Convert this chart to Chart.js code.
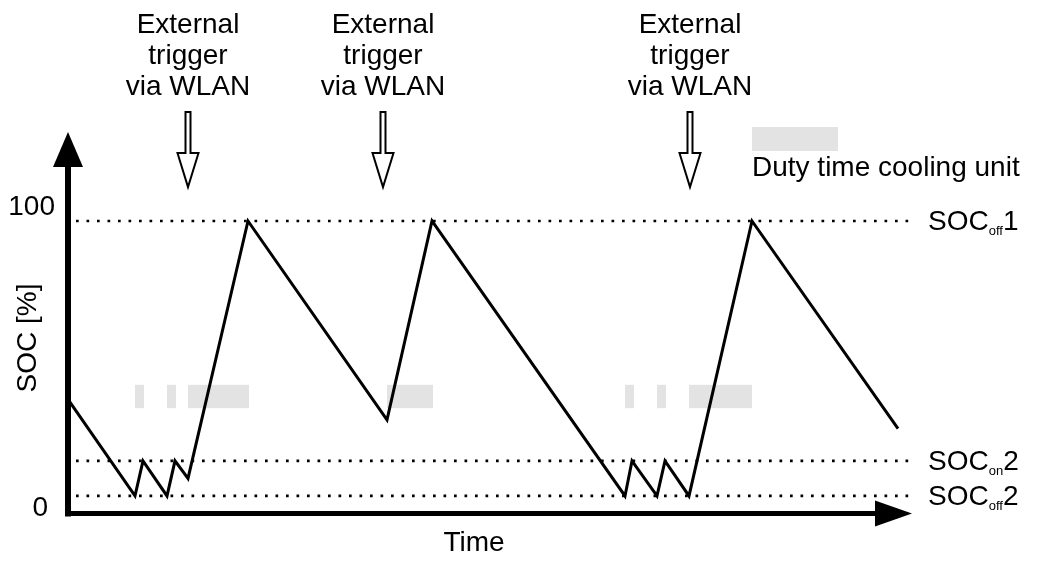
<!DOCTYPE html>
<html>
<head>
<meta charset="utf-8">
<script src="https://cdn.jsdelivr.net/npm/chart.js@4.4.1/dist/chart.umd.min.js"></script>
<style>
  html, body { margin: 0; padding: 0; background: #fff; }
  #wrap { width: 1037px; height: 562px; position: relative; }
</style>
</head>
<body>
<div id="wrap"><canvas id="chart"></canvas></div>
<script>
// time axis in arbitrary units, SOC in %
const timeMax = 844;
const socTime = [0, 67, 75, 99, 107, 120, 180, 319, 364, 557, 564, 589, 597, 621, 684, 830];
const socValues = [39, 6, 18, 6, 18, 12, 100, 32, 100, 6, 18, 6, 18, 6, 100, 29];

// threshold levels (dotted lines)
const thresholdNames = [["SOC", "off", "1"], ["SOC", "on", "2"], ["SOC", "off", "2"]];
const thresholdValues = [100, 18, 6];
const thresholdFrom = 8;
const thresholdTo = 842;

// cooling unit duty time (grey blocks)
const dutyStart = [67, 99, 120, 319, 557, 589, 621];
const dutyEnd = [76, 108, 181, 365, 566, 598, 684];
const dutyLow = 36;
const dutyHigh = 44;

// external triggers
const triggerTimes = [120, 315, 622];
const triggerText = ["External", "trigger", "via WLAN"];

const yTicks = [0, 100];
const yTickLabels = ["0", "100"];

const FONT = "'Liberation Sans', Arial, sans-serif";
const GREY = "#e3e3e3";

const datasets = [
  {
    data: socTime.map((t, i) => ({ x: t, y: socValues[i] })),
    borderColor: "#000",
    borderWidth: 3,
    pointRadius: 0,
    tension: 0,
    borderJoinStyle: "miter",
    clip: false,
  },
];
thresholdValues.forEach((v) => {
  datasets.push({
    data: [{ x: thresholdFrom, y: v }, { x: thresholdTo, y: v }],
    borderColor: "#000",
    borderWidth: 2.7,
    borderDash: [2.7, 7.8],
    borderCapStyle: "butt",
    pointRadius: 0,
    clip: false,
  });
});

function hollowArrow(ctx, x, top) {
  ctx.beginPath();
  ctx.moveTo(x - 2.5, top);
  ctx.lineTo(x + 2.5, top);
  ctx.lineTo(x + 2.5, top + 41);
  ctx.lineTo(x + 10.5, top + 41);
  ctx.lineTo(x, top + 75);
  ctx.lineTo(x - 10.5, top + 41);
  ctx.lineTo(x - 2.5, top + 41);
  ctx.closePath();
  ctx.fillStyle = "#fff";
  ctx.fill();
  ctx.lineWidth = 2;
  ctx.strokeStyle = "#000";
  ctx.stroke();
}

const decorations = {
  id: "decorations",
  beforeDatasetsDraw(chart) {
    const { ctx, scales: { x, y } } = chart;
    ctx.save();
    ctx.fillStyle = GREY;
    dutyStart.forEach((s, i) => {
      const x0 = x.getPixelForValue(s);
      const x1 = x.getPixelForValue(dutyEnd[i]);
      const y0 = y.getPixelForValue(dutyHigh);
      const y1 = y.getPixelForValue(dutyLow);
      ctx.fillRect(x0, y0, x1 - x0, y1 - y0);
    });
    ctx.restore();
  },
  afterDraw(chart) {
    const { ctx, chartArea: a, scales: { x, y } } = chart;
    ctx.save();
    ctx.fillStyle = "#000";

    // axes with arrow heads
    ctx.fillRect(a.left - 3, a.top - 55, 6, a.bottom - a.top + 58);
    ctx.fillRect(a.left - 3, a.bottom - 2.5, a.right - a.left - 34, 5);
    ctx.beginPath();
    ctx.moveTo(a.left, a.top - 89);
    ctx.lineTo(a.left + 15, a.top - 54);
    ctx.lineTo(a.left - 15, a.top - 54);
    ctx.closePath();
    ctx.fill();
    ctx.beginPath();
    ctx.moveTo(a.right, a.bottom);
    ctx.lineTo(a.right - 37, a.bottom - 13);
    ctx.lineTo(a.right - 37, a.bottom + 13);
    ctx.closePath();
    ctx.fill();

    // tick labels
    ctx.font = "28px " + FONT;
    ctx.textAlign = "right";
    ctx.textBaseline = "middle";
    yTicks.forEach((v, i) => {
      const nudge = v === 0 ? -5 : -14;
      ctx.fillText(yTickLabels[i], a.left - (v === 0 ? 20 : 13), y.getPixelForValue(v) + nudge);
    });

    // axis titles
    ctx.textAlign = "center";
    ctx.fillText("Time", 474, 543);
    ctx.save();
    ctx.translate(28, 338);
    ctx.rotate(-Math.PI / 2);
    ctx.fillText("SOC [%]", 0, 0);
    ctx.restore();

    // threshold labels with subscripts
    ctx.textAlign = "left";
    ctx.textBaseline = "alphabetic";
    thresholdValues.forEach((v, i) => {
      const [main, sub, tail] = thresholdNames[i];
      const py = y.getPixelForValue(v) + 9;
      let px = a.right + 16;
      ctx.font = "28px " + FONT;
      ctx.fillText(main, px, py);
      px += ctx.measureText(main).width;
      ctx.font = "13px " + FONT;
      ctx.fillText(sub, px, py + 5);
      px += ctx.measureText(sub).width;
      ctx.font = "28px " + FONT;
      ctx.fillText(tail, px, py);
    });

    // trigger annotations
    ctx.textAlign = "center";
    triggerTimes.forEach((t) => {
      const px = x.getPixelForValue(t);
      ctx.fillStyle = "#000";
      ctx.font = "28px " + FONT;
      triggerText.forEach((line, k) => ctx.fillText(line, px, 33 + k * 31));
      hollowArrow(ctx, px, 112);
    });

    // legend
    ctx.fillStyle = GREY;
    ctx.fillRect(752, 127, 86, 24);
    ctx.fillStyle = "#000";
    ctx.font = "28px " + FONT;
    ctx.textAlign = "left";
    ctx.fillText("Duty time cooling unit", 752, 176);
    ctx.restore();
  },
};

new Chart(document.getElementById("chart"), {
  type: "line",
  data: { datasets },
  options: {
    responsive: true,
    maintainAspectRatio: false,
    animation: false,
    events: [],
    layout: { padding: { left: 68, right: 125, top: 221, bottom: 48.5 } },
    plugins: { legend: { display: false }, tooltip: { enabled: false } },
    scales: {
      x: { type: "linear", min: 0, max: timeMax, display: false },
      y: { type: "linear", min: 0, max: 100, display: false },
    },
  },
  plugins: [decorations],
});
</script>
</body>
</html>
